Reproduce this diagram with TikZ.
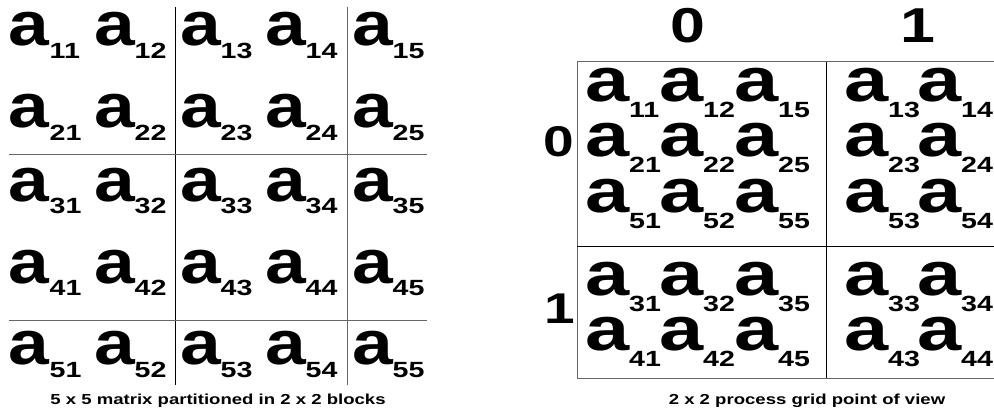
\documentclass[tikz,border=0pt]{standalone}
\usepackage{fontspec}
\setmainfont{Liberation Sans}
\usepackage{graphicx}
\newcommand{\hs}[2]{\scalebox{#1}[1]{#2}}
\newcommand{\bigA}[1]{\hs{#1}{\fontsize{62}{62}\selectfont\bfseries\raisebox{0pt}[0.55em][0pt]{a}}}
\newcommand{\subn}[3]{\raisebox{-#1pt}{\hs{#2}{\fontsize{22}{22}\selectfont\bfseries\raisebox{0pt}[0.72em][0pt]{#3}}}}
\tikzset{
  ent/.style={anchor=base west, inner sep=0pt, outer sep=0pt},
  lab/.style={anchor=base, inner sep=0pt, outer sep=0pt},
  blk/.style={line width=1pt, black},
  gry/.style={line width=1pt, black!60},
}
\begin{document}
\begin{tikzpicture}[x=1pt,y=-1pt]
\useasboundingbox (0,0) rectangle (994,409);
% ---------- left: 5 x 5 matrix ----------
\foreach \r/\y in {1/46,2/128,3/201,4/283,5/364}{
  \foreach \c/\x in {1/12,2/97,3/183,4/268,5/355}{
    \node[ent] (L\r\c) at (\x-3,\y) {\bigA{1.18}\kern0pt\subn{13}{1.3}{\r\c}};
  }
}
\coordinate (v1t) at (175,7);   \coordinate (v1b) at (175,385);
\coordinate (v2t) at (347,7);   \coordinate (v2b) at (347,385);
\coordinate (h1l) at (9,155);   \coordinate (h1r) at (427,155);
\coordinate (h2l) at (9,320);   \coordinate (h2r) at (427,320);
\draw[blk] (v1t) -- (v1b);
\draw[gry] (v2t) -- (v2b);
\draw[gry] (h1l) -- (h1r);
\draw[gry] (h2l) -- (h2r);
\node[lab] (capL) at (218,404) {\hs{1.28}{\fontsize{14.5}{14.5}\selectfont\bfseries 5 x 5 matrix partitioned in 2 x 2 blocks}};
% ---------- right: 2 x 2 process grid ----------
\foreach \r/\y in {1/102,2/157,5/213}{
  \foreach \c/\x in {1/588,2/662,5/737,3/847,4/920}{
    \node[ent] (R\r\c) at (\x-3,\y) {\bigA{1.28}\kern0pt\subn{16}{1.3}{\r\c}};
  }
}
\foreach \r/\y in {3/295,4/350}{
  \foreach \c/\x in {1/588,2/662,5/737,3/847,4/920}{
    \node[ent] (R\r\c) at (\x-3,\y) {\bigA{1.28}\kern0pt\subn{16}{1.3}{\r\c}};
  }
}
\coordinate (btl) at (577,62);  \coordinate (btr) at (994,62);
\coordinate (bbl) at (577,378); \coordinate (bbr) at (994,378);
\coordinate (bmt) at (826,62);  \coordinate (bmb) at (826,378);
\coordinate (bml) at (577,246); \coordinate (bmr) at (994,246);
\draw[gry] (btr) -- (btl) -- (bbl) -- (bbr);
\draw[blk] (bmt) -- (bmb);
\draw[blk] (bml) -- (bmr);
\node[lab] (c0) at (687.5,43) {\hs{1.28}{\fontsize{49}{49}\selectfont\bfseries 0}};
\node[lab] (c1) at (918,43) {\hs{1.28}{\fontsize{49}{49}\selectfont\bfseries 1}};
\node[lab] (r0) at (559,157) {\hs{1.28}{\fontsize{43}{43}\selectfont\bfseries 0}};
\node[lab] (r1) at (560,323) {\hs{1.28}{\fontsize{43}{43}\selectfont\bfseries 1}};
\node[lab] (capR) at (807,404) {\hs{1.28}{\fontsize{14.5}{14.5}\selectfont\bfseries 2 x 2 process grid point of view}};
\end{tikzpicture}
\end{document}
